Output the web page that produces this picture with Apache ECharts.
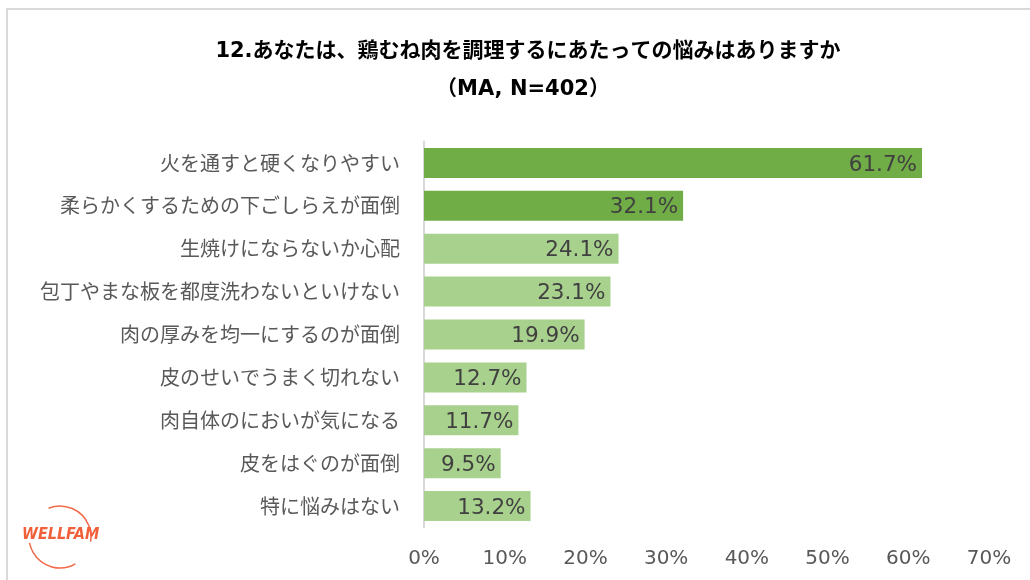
<!DOCTYPE html>
<html><head><meta charset="utf-8">
<script src="https://cdn.jsdelivr.net/npm/echarts@6/dist/echarts.min.js"></script>
<style>html,body{margin:0;padding:0;background:#fff}#c{width:1030px;height:580px}</style>
</head><body><div id="c"></div>
<script>
var categories = ['火を通すと硬くなりやすい','柔らかくするための下ごしらえが面倒','生焼けにならないか心配','包丁やまな板を都度洗わないといけない','肉の厚みを均一にするのが面倒','皮のせいでうまく切れない','肉自体のにおいが気になる','皮をはぐのが面倒','特に悩みはない'];
var values = [61.7, 32.1, 24.1, 23.1, 19.9, 12.7, 11.7, 9.5, 13.2];
var highlightCount = 2;
var xTicks = [0,10,20,30,40,50,60,70];
var titleLine1 = '12.あなたは、鶏むね肉を調理するにあたっての悩みはありますか';
var titleLine2 = '（MA, N=402）';

var FONT = '"DejaVu Sans", "Noto Sans CJK JP", sans-serif';
var chart = echarts.init(document.getElementById('c'));
chart.setOption({
  animation: false,
  backgroundColor: '#fff',
  title: [
    {text: titleLine1, left: 523, top: 36, textAlign: 'center',
     textStyle: {fontFamily: FONT, fontSize: 21, fontWeight: 'bold', color: '#000'}},
    {text: titleLine2, left: 518, top: 74, textAlign: 'center',
     textStyle: {fontFamily: FONT, fontSize: 21, fontWeight: 'bold', color: '#000'}}
  ],
  grid: {left: 424, right: 41, top: 141.5, bottom: 52.5, containLabel: false},
  xAxis: {
    type: 'value', min: xTicks[0], max: xTicks[xTicks.length-1], interval: 10,
    axisLine: {show: false}, axisTick: {show: false}, splitLine: {show: false},
    axisLabel: {formatter: '{value}%', color: '#595959', fontFamily: FONT, fontSize: 20, margin: 21}
  },
  yAxis: {
    type: 'category', data: categories, inverse: true,
    axisLine: {show: true, lineStyle: {color: '#d9d9d9', width: 2}},
    axisTick: {show: false},
    axisLabel: {color: '#595959', fontFamily: '"Noto Sans CJK JP", sans-serif', fontSize: 20, margin: 24}
  },
  series: [{
    type: 'bar', barWidth: 30,
    data: values.map(function(v, i){
      return {value: v, itemStyle: {color: i < highlightCount ? '#70AD47' : '#A9D18E'}};
    }),
    label: {show: true, position: 'insideRight', distance: 5, offset: [0, 2],
      formatter: function(p){return p.value.toFixed(1) + '%';},
      color: '#404040', fontFamily: FONT, fontSize: 21.5}
  }],
  graphic: [
    {type: 'rect', shape: {x: 7, y: 9, width: 1100, height: 700}, style: {fill: 'none', stroke: '#d9d9d9', lineWidth: 2}, silent: true},
    {type: 'arc', shape: {cx: 60, cy: 537, r: 31, startAngle: -1.95, endAngle: 0.15}, style: {fill: 'none', stroke: '#F26B4A', lineWidth: 1.5}},
    {type: 'arc', shape: {cx: 60, cy: 537, r: 31, startAngle: 1.05, endAngle: 2.95}, style: {fill: 'none', stroke: '#F26B4A', lineWidth: 1.5}},
    {type: 'text', x: 22, y: 535, style: {text: 'WELLFAM', fill: '#F0603A', font: 'italic bold 16px "DejaVu Sans Condensed", sans-serif', verticalAlign: 'middle'}}
  ]
});
</script></body></html>
